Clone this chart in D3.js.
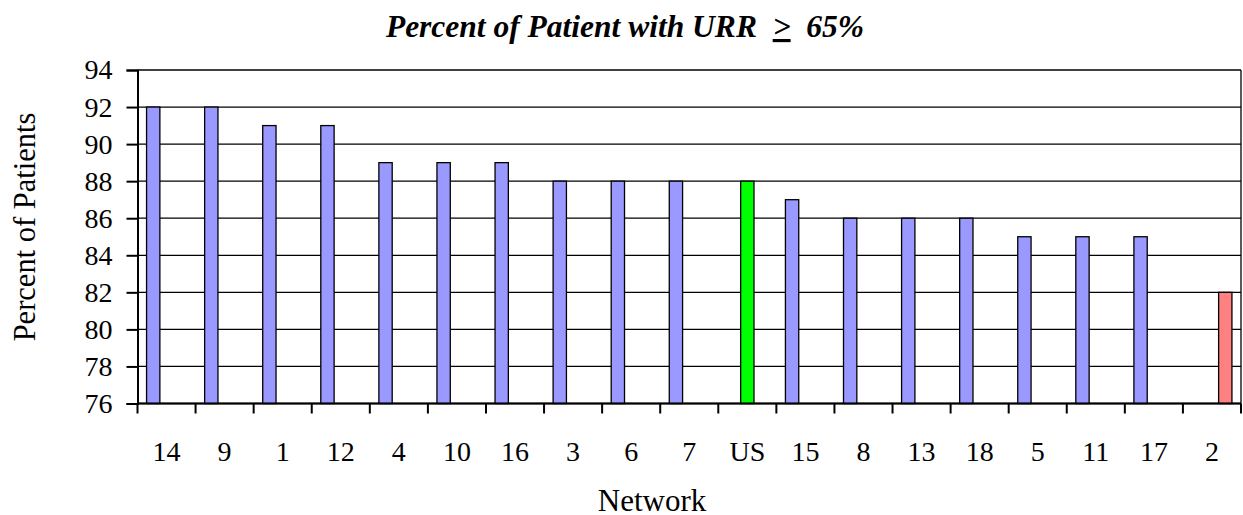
<!DOCTYPE html>
<html>
<head>
<meta charset="utf-8">
<script src="https://cdn.jsdelivr.net/npm/d3@7"></script>
<style>
  body { margin: 0; background: #fff; }
  svg { display: block; }
  text { font-family: "Liberation Serif", "Times New Roman", serif; fill: #000; }
</style>
</head>
<body>
<div id="chart"></div>
<script>
// Networks in display order, and percent of patients with URR >= 65%
const networks = ["14", "9", "1", "12", "4", "10", "16", "3", "6", "7", "US", "15", "8", "13", "18", "5", "11", "17", "2"];
const percents = [92, 92, 91, 91, 89, 89, 89, 88, 88, 88, 88, 87, 86, 86, 86, 85, 85, 85, 82];
// Each category belongs to one of three series (Excel-style clustered slots)
const seriesNames = ["network", "us", "lowest"];
const seriesOf = networks.map((n, i) => n === "US" ? "us" : (i === networks.length - 1 ? "lowest" : "network"));
const yTicks = [76, 78, 80, 82, 84, 86, 88, 90, 92, 94];

const colors = { network: "#9999ff", us: "#00ff00", lowest: "#ff8080" };

const width = 1243, height = 515;
const margin = { top: 70, right: 2, bottom: 111.5, left: 137.5 };
const innerWidth = width - margin.left - margin.right;
const innerHeight = height - margin.top - margin.bottom;

const svg = d3.select("#chart").append("svg")
  .attr("width", width).attr("height", height);

const plot = svg.append("g").attr("transform", `translate(${margin.left},${margin.top})`);

const x = d3.scaleBand().domain(networks).range([0, innerWidth]).padding(0);
const xSub = d3.scaleBand().domain(seriesNames).range([0, x.bandwidth()]).paddingInner(0).paddingOuter(0.68);
const y = d3.scaleLinear().domain([76, 94]).range([innerHeight, 0]);

// horizontal gridlines
plot.append("g")
  .selectAll("line")
  .data(yTicks)
  .join("line")
  .attr("x1", 0).attr("x2", innerWidth)
  .attr("y1", d => y(d)).attr("y2", d => y(d))
  .attr("stroke", "#000").attr("stroke-width", 1.3);

// right border of plot area
plot.append("line")
  .attr("x1", innerWidth).attr("x2", innerWidth)
  .attr("y1", 0).attr("y2", innerHeight)
  .attr("stroke", "#000").attr("stroke-width", 1.3);

const data = networks.map((n, i) => ({ network: n, value: percents[i], series: seriesOf[i] }));

plot.append("g")
  .selectAll("rect")
  .data(data)
  .join("rect")
  .attr("x", d => x(d.network) + xSub(d.series))
  .attr("width", xSub.bandwidth())
  .attr("y", d => y(d.value))
  .attr("height", d => innerHeight - y(d.value))
  .attr("fill", d => colors[d.series])
  .attr("stroke", "#000")
  .attr("stroke-width", 1.3);

// y axis
const yAxis = d3.axisLeft(y).tickValues(yTicks).tickSize(11).tickPadding(14).tickFormat(d3.format("d"));
const yAxisG = plot.append("g").call(yAxis).attr("font-family", null).attr("font-size", null);
yAxisG.select(".domain").attr("stroke-width", 2);
yAxisG.selectAll(".tick line").attr("stroke-width", 2);
yAxisG.selectAll("text").attr("font-size", 28).attr("fill", "#000");

// x axis: ticks at band boundaries, labels at centres
const xAxisG = plot.append("g").attr("transform", `translate(0,${innerHeight})`);
xAxisG.append("line")
  .attr("x1", 0).attr("x2", innerWidth)
  .attr("stroke", "#000").attr("stroke-width", 2);
const boundaries = networks.map(n => x(n)).concat([innerWidth]);
xAxisG.selectAll("line.tick")
  .data(boundaries)
  .join("line")
  .attr("class", "tick")
  .attr("x1", d => d).attr("x2", d => d)
  .attr("y1", 0).attr("y2", 10)
  .attr("stroke", "#000").attr("stroke-width", 2);
xAxisG.selectAll("text")
  .data(networks)
  .join("text")
  .attr("x", d => x(d) + x.bandwidth() / 2)
  .attr("y", 57)
  .attr("text-anchor", "middle")
  .attr("font-size", 28)
  .text(d => d);

// axis titles
svg.append("text")
  .attr("x", 652).attr("y", 511)
  .attr("text-anchor", "middle")
  .attr("font-size", 31)
  .text("Network");

svg.append("text")
  .attr("transform", "translate(35, 227) rotate(-90)")
  .attr("text-anchor", "middle")
  .attr("font-size", 30.5)
  .text("Percent of Patients");

// chart title
const title = svg.append("text")
  .attr("x", 625).attr("y", 37)
  .attr("text-anchor", "middle")
  .attr("font-size", 31.5)
  .attr("font-weight", "bold")
  .attr("font-style", "italic");
title.append("tspan").text("Percent of Patient with URR\u00a0\u00a0");
title.append("tspan").attr("text-decoration", "underline").text(">");
title.append("tspan").text("\u00a0\u00a065%");
</script>
</body>
</html>
